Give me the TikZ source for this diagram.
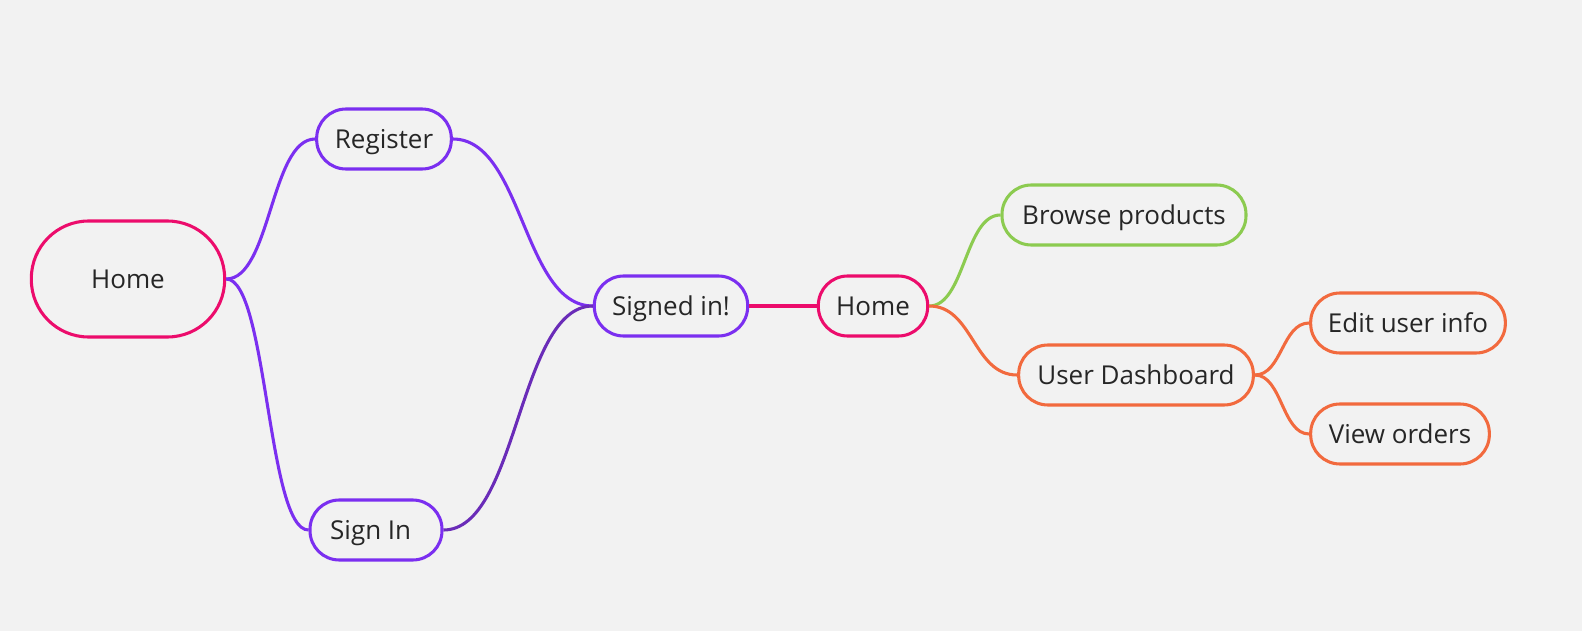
\documentclass[tikz,border=0pt]{standalone}
\usepackage{fontspec}
\setmainfont{Open Sans}
\usepackage{xcolor}
\usepackage{tikz}
\usetikzlibrary{calc}

\definecolor{bgcol}{HTML}{F2F2F2}
\definecolor{pinkred}{HTML}{EC0C6C}
\definecolor{violet}{HTML}{7B2FF0}
\definecolor{darkviolet}{HTML}{6A2CB8}
\definecolor{leafgreen}{HTML}{8CCB50}
\definecolor{carrot}{HTML}{F26A3E}
\definecolor{inktext}{HTML}{262626}

\begin{document}
\begin{tikzpicture}[x=0.75pt,y=-0.75pt,
    topic/.style={draw,line width=2.3pt,fill=bgcol,text=inktext,font=\fontsize{19.5}{22}\selectfont,
        minimum height=45pt,rounded corners=22pt,inner sep=0pt,text height=16.5pt,text depth=2pt},
    branch/.style={line width=2.3pt,
        to path={.. controls ($(\tikztostart)!0.5!(\tikztotarget|-\tikztostart)$)
            and ($(\tikztotarget)!0.5!(\tikztostart|-\tikztotarget)$) .. (\tikztotarget)}}]
        % background and page size
        \fill[bgcol] (0,0) rectangle (1582,631);
        \useasboundingbox (0,0) rectangle (1582,631);

        \node[topic,draw=pinkred,minimum width=145pt,minimum height=87pt,rounded corners=43pt] (home) at (128,279) {Home};
        \node[topic,draw=violet,minimum width=101pt] (register) at (384,139) {Register};
        \node[topic,draw=violet,minimum width=99pt] (signin) at (376,530) {Sign In\hspace*{8pt}};
        \node[topic,draw=violet,minimum width=115pt] (signed) at (671,306) {Signed in!};
        \node[topic,draw=pinkred,minimum width=82pt] (home2) at (873,306) {Home};
        \node[topic,draw=leafgreen,minimum width=183pt] (browse) at (1124,215) {Browse products};
        \node[topic,draw=carrot,minimum width=176pt] (dash) at (1136,375) {User Dashboard};
        \node[topic,draw=carrot,minimum width=146pt] (edit) at (1408,323) {Edit user info};
        \node[topic,draw=carrot,minimum width=134pt] (orders) at (1400,434) {View orders};

        % branches
        \draw[branch,draw=violet] (home.east) to (register.west);
        \draw[branch,draw=violet] (home.east) to (signin.west);
        \draw[branch,draw=violet] (register.east) to (signed.west);
        \draw[branch,draw=darkviolet] (signin.east) to (signed.west);
        \draw[line width=2.3pt,draw=pinkred] (signed.east) -- (home2.west);
        \draw[branch,draw=leafgreen] (home2.east) to (browse.west);
        \draw[branch,draw=carrot] (home2.east) to (dash.west);
        \draw[branch,draw=carrot] (dash.east) to (edit.west);
        \draw[branch,draw=carrot] (dash.east) to (orders.west);
    \end{tikzpicture}
\end{document}
